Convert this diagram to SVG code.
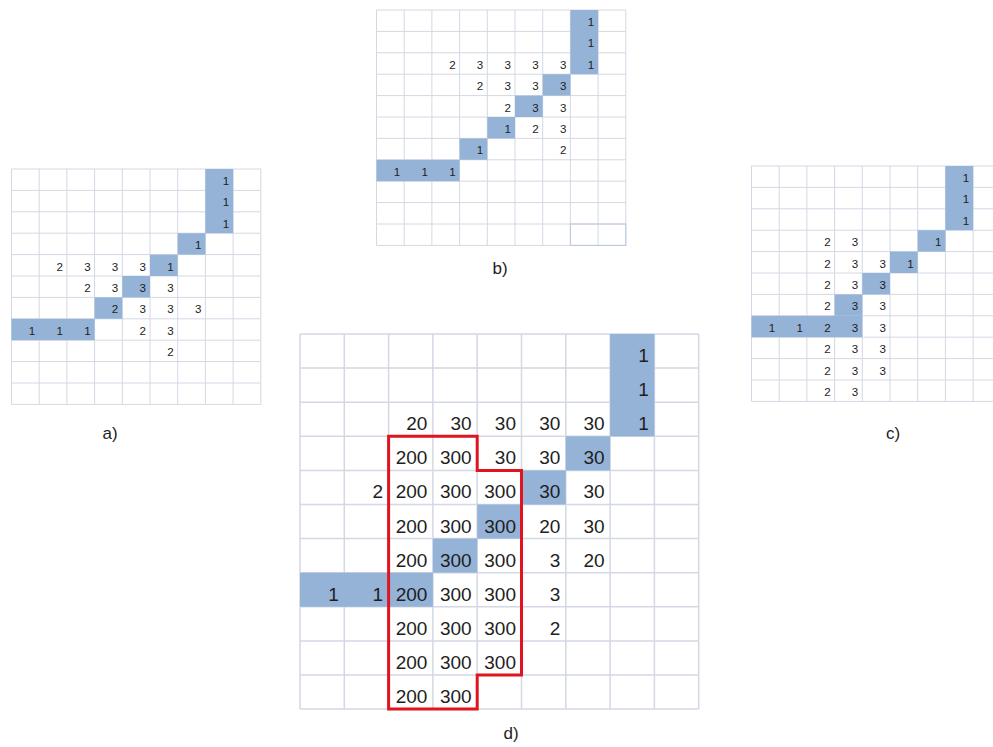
<svg xmlns="http://www.w3.org/2000/svg" xmlns:xlink="http://www.w3.org/1999/xlink" width="993" height="747" viewBox="0 0 993 747">
<style>
.gl{fill:none;stroke:#d3d8e4;stroke-width:1}
.gld{fill:none;stroke:#d3d8e4;stroke-width:1.5}
.bl{fill:#95b3d7}
.s{font-family:"Liberation Sans",Arial,sans-serif;font-size:11.6px;fill:#1e1e1e;text-anchor:end}
.d{font-family:"Liberation Sans",Arial,sans-serif;font-size:19px;fill:#1e1e1e;text-anchor:end}
.lab{font-family:"Liberation Sans",Arial,sans-serif;font-size:17px;fill:#1e1e1e;text-anchor:middle}
.red{fill:none;stroke:#e0141e;stroke-width:3;stroke-linejoin:miter}
</style>
<defs>
<path id="sgrid" class="gl" d="M0 0V235.4M27.7 0V235.4M55.4 0V235.4M83.1 0V235.4M110.8 0V235.4M138.5 0V235.4M166.2 0V235.4M193.9 0V235.4M221.6 0V235.4M249.3 0V235.4M0 0H249.3M0 21.4H249.3M0 42.8H249.3M0 64.2H249.3M0 85.6H249.3M0 107H249.3M0 128.4H249.3M0 149.8H249.3M0 171.2H249.3M0 192.6H249.3M0 214H249.3M0 235.4H249.3"/>
</defs>
<rect width="993" height="747" fill="#fff"/>

<g id="grid-a" transform="translate(11.5,169)">
<use xlink:href="#sgrid" href="#sgrid"/>
<rect class="bl" x="193.9" y="0" width="27.7" height="64.2"/>
<rect class="bl" x="166.2" y="64.2" width="27.7" height="21.4"/>
<rect class="bl" x="138.5" y="85.6" width="27.7" height="21.4"/>
<rect class="bl" x="110.8" y="107" width="27.7" height="21.4"/>
<rect class="bl" x="83.1" y="128.4" width="27.7" height="21.4"/>
<rect class="bl" x="0" y="149.8" width="83.1" height="21.4"/>
<text class="s" x="217.6" y="16">1</text>
<text class="s" x="217.6" y="37.4">1</text>
<text class="s" x="217.6" y="58.8">1</text>
<text class="s" x="189.9" y="80.2">1</text>
<text class="s" x="51.4" y="101.6">2</text><text class="s" x="79.1" y="101.6">3</text><text class="s" x="106.8" y="101.6">3</text><text class="s" x="134.5" y="101.6">3</text><text class="s" x="162.2" y="101.6">1</text>
<text class="s" x="79.1" y="123">2</text><text class="s" x="106.8" y="123">3</text><text class="s" x="134.5" y="123">3</text><text class="s" x="162.2" y="123">3</text>
<text class="s" x="106.8" y="144.4">2</text><text class="s" x="134.5" y="144.4">3</text><text class="s" x="162.2" y="144.4">3</text><text class="s" x="189.9" y="144.4">3</text>
<text class="s" x="23.7" y="165.8">1</text><text class="s" x="51.4" y="165.8">1</text><text class="s" x="79.1" y="165.8">1</text><text class="s" x="134.5" y="165.8">2</text><text class="s" x="162.2" y="165.8">3</text>
<text class="s" x="162.2" y="187.2">2</text>
</g>

<g id="grid-b" transform="translate(376.5,10)">
<use xlink:href="#sgrid" href="#sgrid"/>
<rect class="bl" x="193.9" y="0" width="27.7" height="64.2"/>
<rect class="bl" x="166.2" y="64.2" width="27.7" height="21.4"/>
<rect class="bl" x="138.5" y="85.6" width="27.7" height="21.4"/>
<rect class="bl" x="110.8" y="107" width="27.7" height="21.4"/>
<rect class="bl" x="83.1" y="128.4" width="27.7" height="21.4"/>
<rect class="bl" x="0" y="149.8" width="83.1" height="21.4"/>
<rect x="193.9" y="214" width="55.4" height="21.4" fill="none" stroke="#b8c8e0" stroke-width="1"/>
<text class="s" x="217.6" y="16">1</text>
<text class="s" x="217.6" y="37.4">1</text>
<text class="s" x="79.1" y="58.8">2</text><text class="s" x="106.8" y="58.8">3</text><text class="s" x="134.5" y="58.8">3</text><text class="s" x="162.2" y="58.8">3</text><text class="s" x="189.9" y="58.8">3</text><text class="s" x="217.6" y="58.8">1</text>
<text class="s" x="106.8" y="80.2">2</text><text class="s" x="134.5" y="80.2">3</text><text class="s" x="162.2" y="80.2">3</text><text class="s" x="189.9" y="80.2">3</text>
<text class="s" x="134.5" y="101.6">2</text><text class="s" x="162.2" y="101.6">3</text><text class="s" x="189.9" y="101.6">3</text>
<text class="s" x="134.5" y="123">1</text><text class="s" x="162.2" y="123">2</text><text class="s" x="189.9" y="123">3</text>
<text class="s" x="106.8" y="144.4">1</text><text class="s" x="189.9" y="144.4">2</text>
<text class="s" x="23.7" y="165.8">1</text><text class="s" x="51.4" y="165.8">1</text><text class="s" x="79.1" y="165.8">1</text>
</g>

<g id="grid-c" transform="translate(751.5,166)">
<use xlink:href="#sgrid" href="#sgrid"/>
<rect class="bl" x="193.9" y="0" width="27.7" height="64.2"/>
<rect class="bl" x="166.2" y="64.2" width="27.7" height="21.4"/>
<rect class="bl" x="138.5" y="85.6" width="27.7" height="21.4"/>
<rect class="bl" x="110.8" y="107" width="27.7" height="21.4"/>
<rect class="bl" x="83.1" y="128.4" width="27.7" height="21.4"/>
<rect class="bl" x="0" y="149.8" width="110.8" height="21.4"/>
<text class="s" x="217.6" y="16">1</text>
<text class="s" x="217.6" y="37.4">1</text>
<text class="s" x="217.6" y="58.8">1</text>
<text class="s" x="79.1" y="80.2">2</text><text class="s" x="106.8" y="80.2">3</text><text class="s" x="189.9" y="80.2">1</text>
<text class="s" x="79.1" y="101.6">2</text><text class="s" x="106.8" y="101.6">3</text><text class="s" x="134.5" y="101.6">3</text><text class="s" x="162.2" y="101.6">1</text>
<text class="s" x="79.1" y="123">2</text><text class="s" x="106.8" y="123">3</text><text class="s" x="134.5" y="123">3</text>
<text class="s" x="79.1" y="144.4">2</text><text class="s" x="106.8" y="144.4">3</text><text class="s" x="134.5" y="144.4">3</text>
<text class="s" x="23.7" y="165.8">1</text><text class="s" x="51.4" y="165.8">1</text><text class="s" x="79.1" y="165.8">2</text><text class="s" x="106.8" y="165.8">3</text><text class="s" x="134.5" y="165.8">3</text>
<text class="s" x="79.1" y="187.2">2</text><text class="s" x="106.8" y="187.2">3</text><text class="s" x="134.5" y="187.2">3</text>
<text class="s" x="79.1" y="208.6">2</text><text class="s" x="106.8" y="208.6">3</text><text class="s" x="134.5" y="208.6">3</text>
<text class="s" x="79.1" y="230">2</text><text class="s" x="106.8" y="230">3</text>
</g>

<g id="grid-d" transform="translate(300,334)">
<path class="gld" d="M0 0V375.1M44.3 0V375.1M88.6 0V375.1M132.9 0V375.1M177.2 0V375.1M221.5 0V375.1M265.8 0V375.1M310.1 0V375.1M354.4 0V375.1M398.7 0V375.1M0 0H398.7M0 34.1H398.7M0 68.2H398.7M0 102.3H398.7M0 136.4H398.7M0 170.5H398.7M0 204.6H398.7M0 238.7H398.7M0 272.8H398.7M0 306.9H398.7M0 341H398.7M0 375.1H398.7"/>
<rect class="bl" x="310.1" y="0" width="44.3" height="102.3"/>
<rect class="bl" x="265.8" y="102.3" width="44.3" height="34.1"/>
<rect class="bl" x="221.5" y="136.4" width="44.3" height="34.1"/>
<rect class="bl" x="177.2" y="170.5" width="44.3" height="34.1"/>
<rect class="bl" x="132.9" y="204.6" width="44.3" height="34.1"/>
<rect class="bl" x="0" y="238.7" width="132.9" height="34.1"/>
<text class="d" x="348.9" y="28">1</text>
<text class="d" x="348.9" y="62.1">1</text>
<text class="d" x="127.4" y="96.2">20</text><text class="d" x="171.7" y="96.2">30</text><text class="d" x="216" y="96.2">30</text><text class="d" x="260.3" y="96.2">30</text><text class="d" x="304.6" y="96.2">30</text><text class="d" x="348.9" y="96.2">1</text>
<text class="d" x="127.4" y="130.3">200</text><text class="d" x="171.7" y="130.3">300</text><text class="d" x="216" y="130.3">30</text><text class="d" x="260.3" y="130.3">30</text><text class="d" x="304.6" y="130.3">30</text>
<text class="d" x="83.1" y="164.4">2</text><text class="d" x="127.4" y="164.4">200</text><text class="d" x="171.7" y="164.4">300</text><text class="d" x="216" y="164.4">300</text><text class="d" x="260.3" y="164.4">30</text><text class="d" x="304.6" y="164.4">30</text>
<text class="d" x="127.4" y="198.5">200</text><text class="d" x="171.7" y="198.5">300</text><text class="d" x="216" y="198.5">300</text><text class="d" x="260.3" y="198.5">20</text><text class="d" x="304.6" y="198.5">30</text>
<text class="d" x="127.4" y="232.6">200</text><text class="d" x="171.7" y="232.6">300</text><text class="d" x="216" y="232.6">300</text><text class="d" x="260.3" y="232.6">3</text><text class="d" x="304.6" y="232.6">20</text>
<text class="d" x="38.8" y="266.7">1</text><text class="d" x="83.1" y="266.7">1</text><text class="d" x="127.4" y="266.7">200</text><text class="d" x="171.7" y="266.7">300</text><text class="d" x="216" y="266.7">300</text><text class="d" x="260.3" y="266.7">3</text>
<text class="d" x="127.4" y="300.8">200</text><text class="d" x="171.7" y="300.8">300</text><text class="d" x="216" y="300.8">300</text><text class="d" x="260.3" y="300.8">2</text>
<text class="d" x="127.4" y="334.9">200</text><text class="d" x="171.7" y="334.9">300</text><text class="d" x="216" y="334.9">300</text>
<text class="d" x="127.4" y="369">200</text><text class="d" x="171.7" y="369">300</text>
<path class="red" d="M88.6 102.3H177.2V136.4H221.5V341H177.2V375.1H88.6Z"/>
</g>

<g id="labels">
<text class="lab" x="110" y="439">a)</text>
<text class="lab" x="500" y="274">b)</text>
<text class="lab" x="893" y="439">c)</text>
<text class="lab" x="511" y="739">d)</text>
</g>
</svg>
